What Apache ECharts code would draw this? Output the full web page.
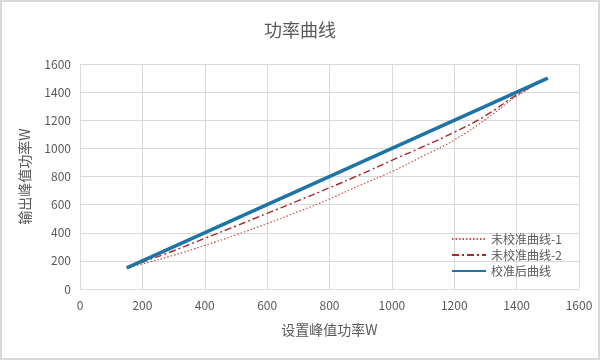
<!DOCTYPE html>
<html>
<head>
<meta charset="utf-8">
<script src="https://cdn.jsdelivr.net/npm/echarts@6/dist/echarts.min.js"></script>
<style>
html,body{margin:0;padding:0;background:#fff;}
#c{width:600px;height:360px;box-sizing:border-box;border:2px solid #d9d9d9;}
</style>
</head>
<body>
<div id="c"></div>
<script>
var xSet = [150, 200, 300, 400, 500, 600, 700, 800, 900, 1000, 1100, 1200, 1300, 1400, 1500];
var uncal1 = [150, 178, 240, 310, 385, 465, 550, 640, 740, 835, 945, 1060, 1205, 1370, 1500];
var uncal2 = [150, 190, 272, 360, 448, 538, 628, 720, 815, 915, 1012, 1115, 1232, 1380, 1500];
var calX = [150, 1500];
var calY = [150, 1500];
var names = ['未校准曲线-1', '未校准曲线-2', '校准后曲线'];
var axisTicks = [0, 200, 400, 600, 800, 1000, 1200, 1400, 1600];

function pairs(xs, ys) { return xs.map(function (x, i) { return [x, ys[i]]; }); }
function plain(v) { return String(v); }

var font = 'Noto Sans CJK SC';
var chart = echarts.init(document.getElementById('c'));
chart.setOption({
  animation: false,
  textStyle: { fontFamily: font },
  title: {
    text: '功率曲线', left: 'center', top: 14,
    textStyle: { fontSize: 18, fontWeight: 'normal', color: '#595959', fontFamily: font }
  },
  grid: { left: 78, right: 19, top: 62, bottom: 69 },
  legend: {
    orient: 'vertical', left: 444, top: 226, itemGap: 4, itemWidth: 34, itemHeight: 14,
    itemStyle: { opacity: 0 },
    textStyle: { color: '#595959', fontSize: 12, fontFamily: font },
    data: names
  },
  xAxis: {
    type: 'value', min: axisTicks[0], max: axisTicks[axisTicks.length - 1], interval: 200,
    name: '设置峰值功率W', nameLocation: 'middle', nameGap: 34,
    nameTextStyle: { color: '#595959', fontSize: 14, fontFamily: font },
    axisLine: { show: true, lineStyle: { color: '#d9d9d9' } },
    axisTick: { show: false },
    axisLabel: { color: '#595959', fontSize: 12, margin: 10, formatter: plain },
    splitLine: { show: true, lineStyle: { color: '#d9d9d9' } }
  },
  yAxis: {
    type: 'value', min: axisTicks[0], max: axisTicks[axisTicks.length - 1], interval: 200,
    name: '输出峰值功率W', nameLocation: 'middle', nameGap: 48,
    nameTextStyle: { color: '#595959', fontSize: 14, fontFamily: font },
    axisLine: { show: false },
    axisTick: { show: false },
    axisLabel: { color: '#595959', fontSize: 12, margin: 9, formatter: plain },
    splitLine: { show: true, lineStyle: { color: '#d9d9d9' } }
  },
  series: [
    {
      name: names[0], type: 'line', smooth: true, symbol: 'none',
      data: pairs(xSet, uncal1),
      lineStyle: { color: '#c0504d', width: 1.2, type: [1.5, 2] },
      itemStyle: { color: '#c0504d' }, z: 3
    },
    {
      name: names[1], type: 'line', smooth: true, symbol: 'none',
      data: pairs(xSet, uncal2),
      lineStyle: { color: '#a8282a', width: 1.4, type: [7, 3, 2, 3] },
      itemStyle: { color: '#a8282a' }, z: 3
    },
    {
      name: names[2], type: 'line', symbol: 'none',
      data: pairs(calX, calY),
      lineStyle: { color: '#1f74a6', width: 3.5 },
      itemStyle: { color: '#1f74a6' }, z: 4
    }
  ]
});
</script>
</body>
</html>
